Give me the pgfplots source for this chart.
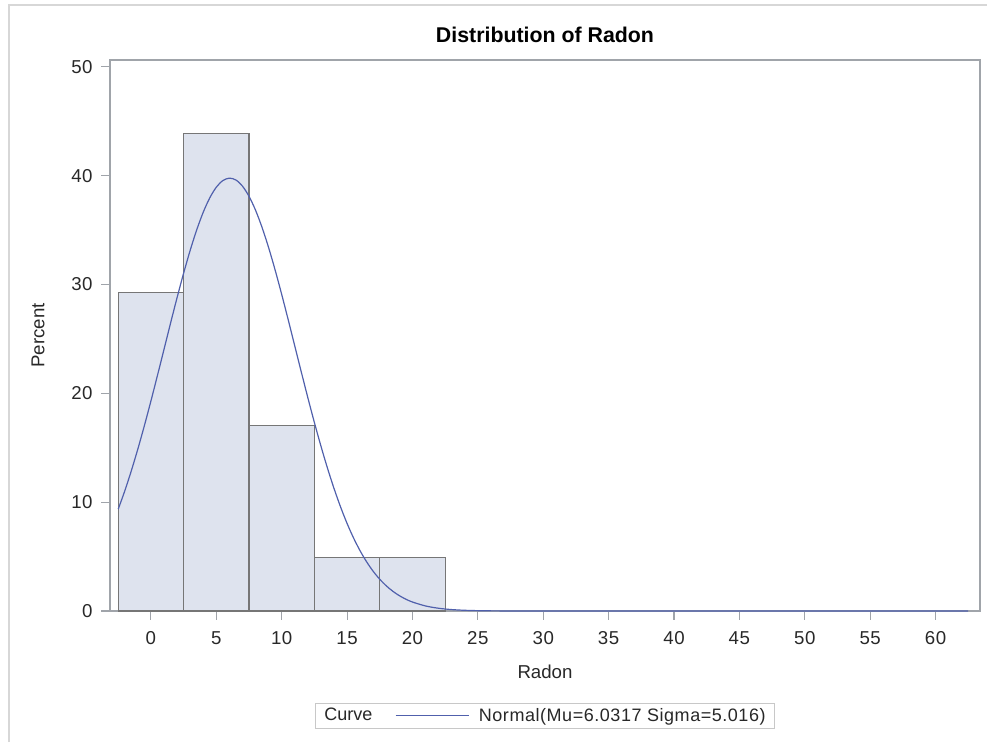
\documentclass[border=0pt]{standalone}
\usepackage{pgfplots}
\pgfplotsset{compat=1.18}
\usepackage{fontspec}
\setmainfont{Liberation Sans}
\definecolor{barfill}{RGB}{222,227,238}
\definecolor{baredge}{RGB}{118,118,118}
\definecolor{curveblue}{RGB}{80,96,172}
\definecolor{framegray}{RGB}{160,164,170}
\definecolor{txtgray}{RGB}{40,40,40}
\definecolor{bordergray}{RGB}{215,215,215}
\definecolor{legendgray}{RGB}{200,200,200}
\pgfplotsset{longline/.style={legend image code/.code={\draw[##1] (0pt,0pt) -- (55pt,0pt); \path (60pt,0pt);}}}
\begin{document}
\begin{tikzpicture}
\useasboundingbox (0,0) rectangle (740.25pt,556.5pt);
\draw[draw=bordergray,line width=1pt] (6.75pt,0) -- (6.75pt,552.75pt) -- (740.25pt,552.75pt);
\begin{axis}[
  at={(82.5pt,98.25pt)}, anchor=south west,
  scale only axis, width=652.5pt, height=413.25pt,
  xmin=-3.13, xmax=63.4, ymin=0, ymax=50.62,
  xtick={0,5,...,60}, ytick={0,10,...,50},
  tick align=outside, tick pos=left,
  major tick length=6.5pt,
  every tick/.style={draw=framegray, line width=0.8pt},
  axis line style={draw=framegray, line width=0.8pt},
  tick label style={font=\fontsize{14}{16}\selectfont\addfontfeature{LetterSpace=3}, text=txtgray},
  xticklabel style={yshift=-5pt, text height=10pt, text depth=0pt},
  yticklabel style={xshift=-3pt},
  /pgf/number format/assume math mode=true,
  every axis title shift=0pt,
  title={Distribution of Radon},
  title style={font=\fontsize{16}{19}\selectfont\bfseries, at={(axis description cs:0.5,1.0454)}, anchor=center},
  xlabel={Radon},
  xlabel style={font=\fontsize{14}{17}\selectfont, text=txtgray, at={(axis description cs:0.5,-0.1107)}, anchor=center},
  ylabel={Percent},
  ylabel style={font=\fontsize{14}{17}\selectfont, text=txtgray, at={(axis description cs:-0.0828,0.5)}, anchor=center},
  legend style={at={(axis description cs:0.5,-0.19)}, anchor=center, draw=legendgray, font=\fontsize{13.5}{16}\selectfont, text=txtgray, /tikz/every even column/.append style={column sep=15pt}, inner xsep=4.5pt, inner ysep=1.5pt},
  legend columns=2,
]
\addplot[ybar, bar width=5, bar shift=0pt, fill=barfill, draw=baredge, line width=0.8pt, forget plot] coordinates {
  (0,29.268) (5,43.902) (10,17.073) (15,4.878) (20,4.878)
};
\addlegendimage{empty legend}
\addlegendentry{Curve}
\addplot[curveblue, line width=0.9pt, smooth, longline] coordinates {
  (-2.5,9.360) (-2.0,11.036) (-1.5,12.881) (-1.0,14.886) (-0.5,17.033)
  (0,19.297) (0.5,21.648) (1.0,24.044) (1.5,26.442) (2.0,28.790)
  (2.5,31.037) (3.0,33.128) (3.5,35.011) (4.0,36.635) (4.5,37.956)
  (5.0,38.935) (5.5,39.544) (6.0,39.766) (6.5,39.594) (7.0,39.033)
  (7.5,38.099) (8.0,36.820) (8.5,35.233) (9.0,33.380) (9.5,31.312)
  (10,29.082) (10.5,26.743) (11,24.349) (11.5,21.951) (12,19.591)
  (12.5,17.315) (13,15.151) (13.5,13.126) (14,11.260) (14.5,9.563)
  (15,8.042) (15.5,6.696) (16,5.520) (16.5,4.506) (17,3.641)
  (17.5,2.914) (18,2.309) (18.5,1.811) (19,1.407) (19.5,1.082)
  (20,0.824) (21,0.463) (22,0.251) (23,0.130) (24,0.065)
  (25,0.031) (26,0.014) (28,0.003) (30,0.0) (40,0.0) (50,0.0) (62.5,0.0)
};
\addlegendentry{\addfontfeature{LetterSpace=3}Normal(Mu=6.0317 Sigma=5.016)}
\end{axis}
\end{tikzpicture}
\end{document}
